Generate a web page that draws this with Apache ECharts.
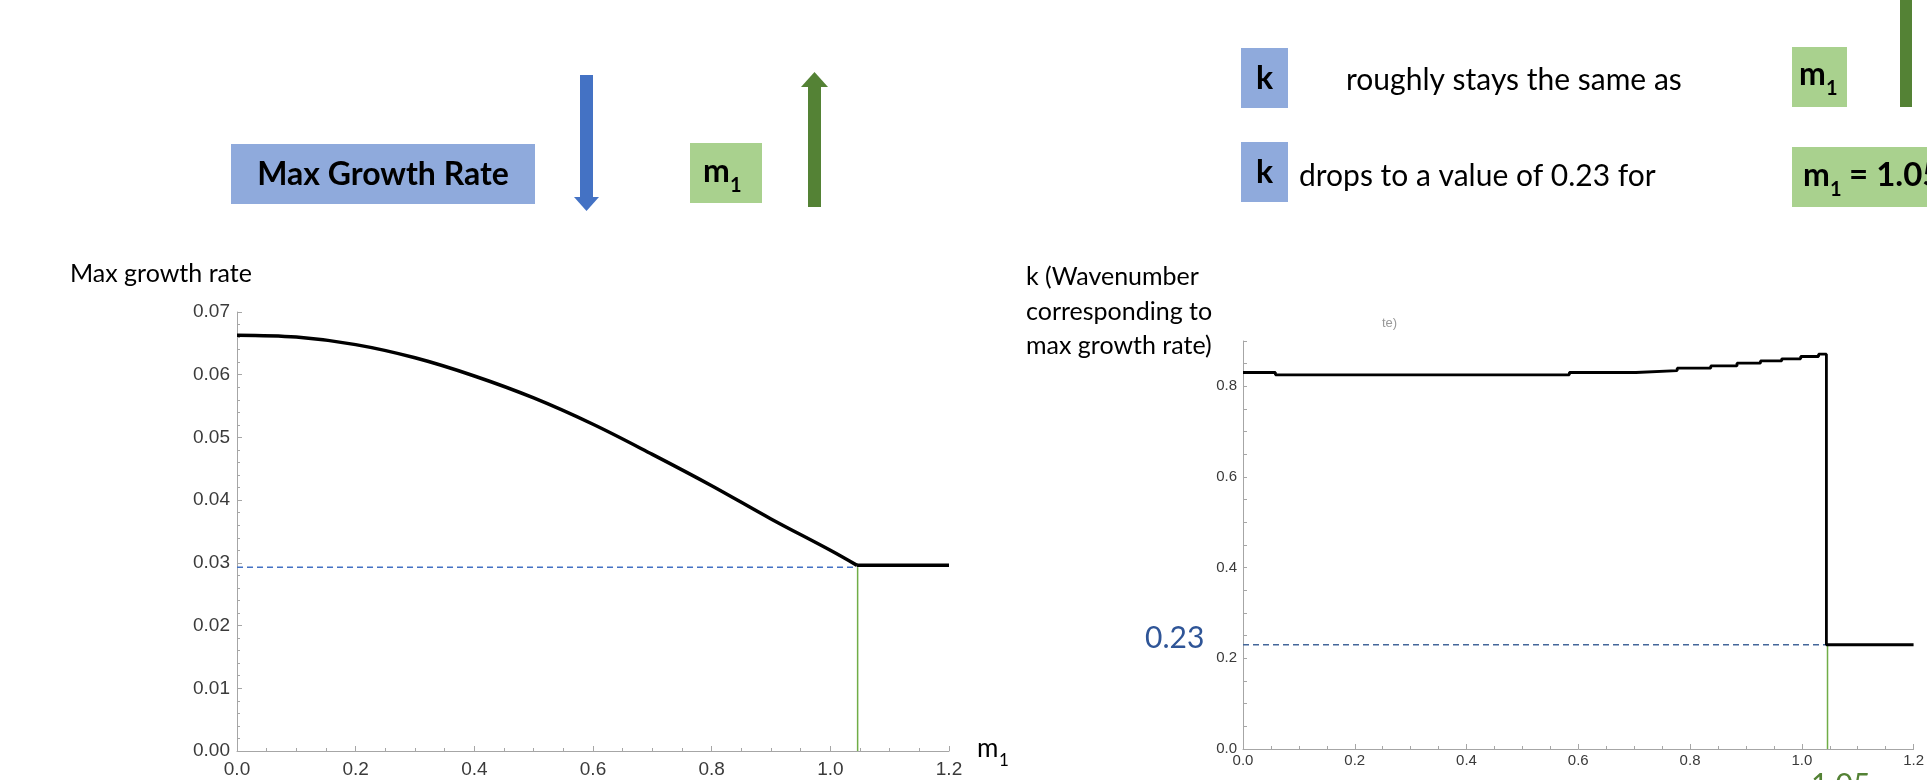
<!DOCTYPE html>
<html>
<head>
<meta charset="utf-8">
<script src="https://cdn.jsdelivr.net/npm/echarts@6/dist/echarts.min.js"></script>
<style>
html,body{margin:0;padding:0;background:#fff;}
#c{width:1927px;height:780px;}
</style>
</head>
<body>
<div id="c"></div>
<script>
// ---- data ----
const mCurve = [0, 0.1, 0.2, 0.3, 0.4, 0.5, 0.6, 0.7, 0.8, 0.9, 1.0, 1.045];
const rateCurve = [0.0663, 0.0660, 0.0648, 0.0627, 0.0598, 0.0563, 0.0521, 0.0473, 0.0423, 0.0370, 0.0320, 0.0296];
const mFlat = [1.045, 1.2];
const rateFlat = [0.0296, 0.0296];
const kM = [0, 0.058, 0.584, 0.703, 0.777, 0.837, 0.884, 0.926, 0.964, 0.998, 1.030, 1.044, 1.2];
const kVal = [0.8305, 0.8254, 0.8305, 0.8348, 0.840, 0.845, 0.851, 0.856, 0.8607, 0.8658, 0.871, 0.23, 0.23];
const mCritical = 1.046;
const rateAtCritical = 0.0293;
const kAtCritical = 0.23;
const xTicks = [0, 0.2, 0.4, 0.6, 0.8, 1.0, 1.2];
const rateTicks = [0, 0.01, 0.02, 0.03, 0.04, 0.05, 0.06, 0.07];
const kTicks = [0, 0.2, 0.4, 0.6, 0.8];

const zip = (a, b) => a.map((v, i) => [v, b[i]]);

const axisGray = '#a6a6a6';
const labelColor = '#3a3a3a';
const tickFont = 'Liberation Sans, Arial, sans-serif';

function xAxisCfg(gridIndex, fontSize, margin) {
  return {
    gridIndex, type: 'value', min: xTicks[0], max: xTicks[xTicks.length - 1], interval: 0.2,
    axisLine: { lineStyle: { color: axisGray, width: 1 } },
    axisTick: { inside: true, length: 5, lineStyle: { color: axisGray } },
    minorTick: { show: true, splitNumber: 4, length: 3, lineStyle: { color: axisGray } },
    splitLine: { show: false },
    axisLabel: { color: labelColor, fontSize, fontFamily: tickFont, margin, formatter: v => v.toFixed(1) }
  };
}

const chart = echarts.init(document.getElementById('c'), null, { renderer: 'canvas' });

const option = {
  animation: false,
  backgroundColor: '#fff',
  grid: [
    { left: 237, top: 312, width: 712, height: 439 },
    { left: 1243, top: 341, width: 672, height: 408 }
  ],
  xAxis: [xAxisCfg(0, 19, 9), xAxisCfg(1, 15, 4)],
  yAxis: [
    {
      gridIndex: 0, type: 'value', min: rateTicks[0], max: rateTicks[rateTicks.length - 1], interval: 0.01,
      axisLine: { show: true, lineStyle: { color: axisGray } },
      axisTick: { show: true, inside: true, length: 5, lineStyle: { color: axisGray } },
      minorTick: { show: true, splitNumber: 5, length: 3, lineStyle: { color: axisGray } },
      splitLine: { show: false },
      axisLabel: { color: labelColor, fontSize: 19, fontFamily: tickFont, margin: 7, formatter: v => v.toFixed(2) }
    },
    {
      gridIndex: 1, type: 'value', min: 0, max: 0.9, interval: 0.05,
      axisLine: { show: true, lineStyle: { color: axisGray } },
      axisTick: { show: true, inside: true, length: 4, lineStyle: { color: axisGray } },
      splitLine: { show: false },
      axisLabel: {
        color: labelColor, fontSize: 15, fontFamily: tickFont, margin: 6,
        formatter: v => kTicks.some(t => Math.abs(t - v) < 1e-6) ? v.toFixed(1) : ''
      }
    }
  ],
  series: [
    { type: 'line', xAxisIndex: 0, yAxisIndex: 0, data: zip([0, mCritical], [rateAtCritical, rateAtCritical]),
      symbol: 'none', lineStyle: { color: '#4472c4', width: 1.6, type: [6, 4] }, z: 2 },
    { type: 'line', xAxisIndex: 0, yAxisIndex: 0, data: zip([mCritical, mCritical], [0, rateAtCritical]),
      symbol: 'none', lineStyle: { color: '#70ad47', width: 1.5 }, z: 2 },
    { type: 'line', xAxisIndex: 0, yAxisIndex: 0, data: zip(mCurve, rateCurve), smooth: 0.35,
      symbol: 'none', lineStyle: { color: '#000', width: 3.5 }, z: 3 },
    { type: 'line', xAxisIndex: 0, yAxisIndex: 0, data: zip(mFlat, rateFlat),
      symbol: 'none', lineStyle: { color: '#000', width: 3.5 }, z: 3 },
    { type: 'line', xAxisIndex: 1, yAxisIndex: 1, data: zip([0, mCritical], [kAtCritical, kAtCritical]),
      symbol: 'none', lineStyle: { color: '#44679a', width: 1.6, type: [6, 4] }, z: 2 },
    { type: 'line', xAxisIndex: 1, yAxisIndex: 1, data: zip([mCritical, mCritical], [0, kAtCritical]),
      symbol: 'none', lineStyle: { color: '#70ad47', width: 1.5 }, z: 2 },
    { type: 'line', xAxisIndex: 1, yAxisIndex: 1, data: zip(kM, kVal), step: 'end',
      symbol: 'none', lineStyle: { color: '#000', width: 2.8 }, z: 3 }
  ],
  graphic: [
    // Top-left annotation
    { type: 'rect', shape: { x: 231, y: 144, width: 304, height: 60 }, style: { fill: '#8faadc' } },
    { type: 'text', x: 383, y: 175, style: { text: 'Max Growth Rate', font: 'bold 32px Lato', fill: '#000', textAlign: 'center', textVerticalAlign: 'middle' } },
    { type: 'rect', shape: { x: 580, y: 75, width: 13, height: 124 }, style: { fill: '#4472c4' } },
    { type: 'polygon', shape: { points: [[574, 197], [599, 197], [586.5, 211]] }, style: { fill: '#4472c4' } },
    { type: 'rect', shape: { x: 690, y: 143, width: 72, height: 60 }, style: { fill: '#a9d18e' } },
    { type: 'text', x: 703, y: 188, style: { text: 'm', font: 'bold 32px Lato', fill: '#000', textVerticalAlign: 'bottom' } },
    { type: 'text', x: 730, y: 196, style: { text: '1', font: 'bold 20px Lato', fill: '#000', textVerticalAlign: 'bottom' } },
    { type: 'rect', shape: { x: 808, y: 85, width: 13, height: 122 }, style: { fill: '#548235' } },
    { type: 'polygon', shape: { points: [[801, 87], [828, 87], [814.5, 72]] }, style: { fill: '#548235' } },

    // Top-right annotation
    { type: 'rect', shape: { x: 1241, y: 48, width: 47, height: 60 }, style: { fill: '#8faadc' } },
    { type: 'text', x: 1264.5, y: 79, style: { text: 'k', font: 'bold 32px Lato', fill: '#000', textAlign: 'center', textVerticalAlign: 'middle' } },
    { type: 'text', x: 1346, y: 80, style: { text: 'roughly stays the same as', font: '30px Lato', fill: '#000', textVerticalAlign: 'middle' } },
    { type: 'rect', shape: { x: 1792, y: 47, width: 55, height: 60 }, style: { fill: '#a9d18e' } },
    { type: 'text', x: 1799, y: 91, style: { text: 'm', font: 'bold 32px Lato', fill: '#000', textVerticalAlign: 'bottom' } },
    { type: 'text', x: 1826, y: 99, style: { text: '1', font: 'bold 20px Lato', fill: '#000', textVerticalAlign: 'bottom' } },
    { type: 'rect', shape: { x: 1900, y: 0, width: 12, height: 107 }, style: { fill: '#548235' } },
    { type: 'rect', shape: { x: 1241, y: 142, width: 47, height: 60 }, style: { fill: '#8faadc' } },
    { type: 'text', x: 1264.5, y: 173, style: { text: 'k', font: 'bold 32px Lato', fill: '#000', textAlign: 'center', textVerticalAlign: 'middle' } },
    { type: 'text', x: 1299, y: 176, style: { text: 'drops to a value of 0.23 for', font: '30px Lato', fill: '#000', textVerticalAlign: 'middle' } },
    { type: 'rect', shape: { x: 1792, y: 147, width: 140, height: 60 }, style: { fill: '#a9d18e' } },
    { type: 'text', x: 1803, y: 192, style: { text: 'm', font: 'bold 32px Lato', fill: '#000', textVerticalAlign: 'bottom' } },
    { type: 'text', x: 1830, y: 200, style: { text: '1', font: 'bold 20px Lato', fill: '#000', textVerticalAlign: 'bottom' } },
    { type: 'text', x: 1849, y: 192, style: { text: '= 1.05', font: 'bold 33px Lato', fill: '#000', textVerticalAlign: 'bottom' } },

    // Axis titles
    { type: 'text', x: 70, y: 274, style: { text: 'Max growth rate', font: '25px Lato', fill: '#000', textVerticalAlign: 'middle' } },
    { type: 'text', x: 1026, y: 277, style: { text: 'k (Wavenumber', font: '25px Lato', fill: '#000', textVerticalAlign: 'middle' } },
    { type: 'text', x: 1026, y: 312, style: { text: 'corresponding to', font: '25px Lato', fill: '#000', textVerticalAlign: 'middle' } },
    { type: 'text', x: 1026, y: 346, style: { text: 'max growth rate)', font: '25px Lato', fill: '#000', textVerticalAlign: 'middle' } },
    { type: 'text', x: 1382, y: 323, style: { text: 'te)', font: '13px Liberation Sans', fill: '#999', textVerticalAlign: 'middle' } },
    { type: 'text', x: 977, y: 762, style: { text: 'm', font: '26px Lato', fill: '#000', textVerticalAlign: 'bottom' } },
    { type: 'text', x: 999, y: 769, style: { text: '1', font: '17px Lato', fill: '#000', textVerticalAlign: 'bottom' } },

    // Value annotations
    { type: 'text', x: 1145, y: 638, style: { text: '0.23', font: '30px Lato', fill: '#2f5597', textVerticalAlign: 'middle' } },
    { type: 'text', x: 1811, y: 770, style: { text: '1.05', font: '30px Lato', fill: '#548235', textVerticalAlign: 'top' } }
  ]
};
chart.setOption(option);
</script>
</body>
</html>
